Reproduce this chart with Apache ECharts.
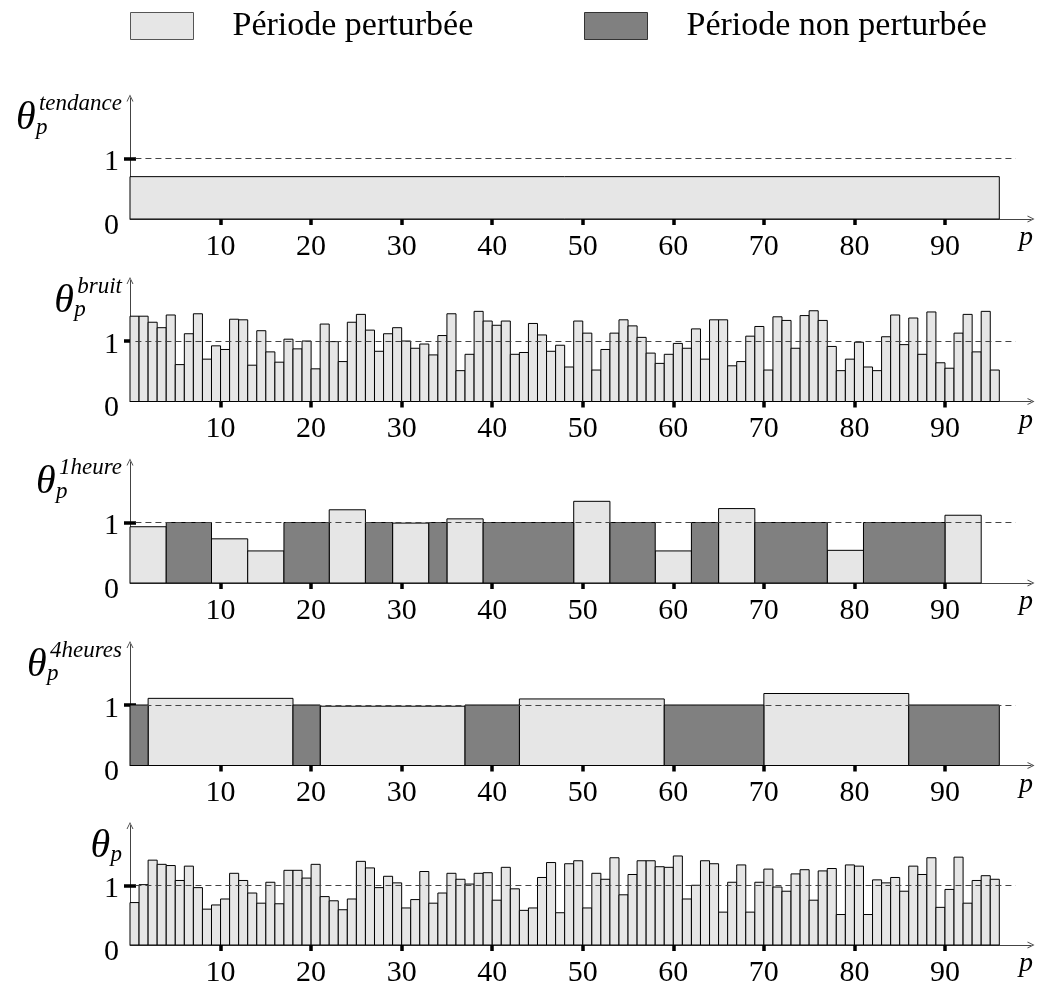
<!DOCTYPE html>
<html><head><meta charset="utf-8">
<script src="https://cdn.jsdelivr.net/npm/echarts@6/dist/echarts.min.js"></script>
<style>html,body{margin:0;padding:0;background:#fff}#c{width:1042px;height:988px}</style>
</head><body><div id="c"></div>
<script>
// ---------- data ----------
const xTicks = [10, 20, 30, 40, 50, 60, 70, 80, 90];
const legendNames = ['Période perturbée', 'Période non perturbée'];
const panelSup = ['tendance', 'bruit', '1heure', '4heures', ''];

// panel 1 : tendance (one segment)
const tendanceStart = [0];
const tendanceEnd = [96];
const tendanceValue = [0.70];
const tendanceType = ['P'];

// panel 2 : bruit (p = 1..96)
const bruit = [
  1.41,1.41,1.31,1.22,1.43,0.61,1.12,1.45,0.70,0.92,
  0.86,1.36,1.35,0.60,1.17,0.82,0.65,1.03,0.87,1.00,
  0.54,1.28,0.99,0.66,1.31,1.44,1.18,0.83,1.12,1.22,
  1.00,0.88,0.95,0.77,1.09,1.45,0.51,0.78,1.49,1.33,
  1.26,1.33,0.78,0.81,1.29,1.10,0.83,0.93,0.57,1.33,
  1.13,0.52,0.86,1.13,1.35,1.25,1.06,0.80,0.63,0.78,
  0.96,0.88,1.20,0.70,1.35,1.35,0.59,0.66,1.08,1.24,
  0.52,1.40,1.34,0.88,1.42,1.50,1.34,0.91,0.51,0.70,
  0.98,0.57,0.51,1.07,1.43,0.94,1.38,0.78,1.48,0.64,
  0.55,1.13,1.44,0.82,1.49,0.52
];

// panel 3 : 1 heure
const heureStart = [0,4,9,13,17,22,26,29,33,35,39,49,53,58,62,65,69,77,81,90];
const heureEnd   = [4,9,13,17,22,26,29,33,35,39,49,53,58,62,65,69,77,81,90,94];
const heureValue = [0.93,1,0.73,0.53,1,1.21,1,0.99,1,1.06,1,1.35,1,0.53,1,1.23,1,0.54,1,1.12];
const heureType  = ['P','N','P','P','N','P','N','P','N','P','N','P','N','P','N','P','N','P','N','P'];

// panel 4 : 4 heures
const quatreStart = [0,2,18,21,37,43,59,70,86];
const quatreEnd   = [2,18,21,37,43,59,70,86,96];
const quatreValue = [1,1.11,1,0.98,1,1.10,1,1.19,1];
const quatreType  = ['N','P','N','P','N','P','N','P','N'];

// panel 5 : theta_p (p = 1..96)
const theta = [
  0.71,1.01,1.42,1.35,1.33,1.08,1.32,0.96,0.60,0.67,
  0.77,1.20,1.08,0.87,0.70,1.05,0.69,1.25,1.25,1.12,
  1.35,0.81,0.74,0.59,0.77,1.40,1.29,0.96,1.15,1.04,
  0.62,0.76,1.23,0.70,0.87,1.20,1.10,1.02,1.20,1.21,
  0.75,1.30,0.94,0.58,0.62,1.13,1.38,0.54,1.36,1.41,
  0.62,1.20,1.10,1.46,0.84,1.18,1.41,1.41,1.31,1.30,
  1.49,0.77,1.00,1.41,1.36,0.55,1.05,1.34,0.55,1.05,
  1.27,0.97,0.90,1.19,1.26,0.75,1.24,1.28,0.51,1.34,
  1.32,0.51,1.09,1.04,1.13,0.90,1.32,1.18,1.46,0.63,
  0.93,1.47,0.70,1.08,1.16,1.10
];

// ---------- build ----------
function segs(st, en, val, typ) { return st.map((s, i) => [s, en[i], val[i], typ[i]]); }
function perPeriod(arr) { return arr.map((v, i) => [i, i + 1, v, 'P']); }
const panels = [
  segs(tendanceStart, tendanceEnd, tendanceValue, tendanceType),
  perPeriod(bruit),
  segs(heureStart, heureEnd, heureValue, heureType),
  segs(quatreStart, quatreEnd, quatreValue, quatreType),
  perPeriod(theta)
];

const FONT = 'Liberation Serif';
const LIGHT = '#e6e6e6', DARK = '#808080';
const baselines = [219, 401.5, 583, 765.5, 946.5];
const plotH = 121, yMax = 2, xMax = 99.5;
const arrow = 'path://M0,10 L5,0 L10,10 L8.6,10 L5,2.6 L1.4,10 Z';

const nameRich = {
  sp:  { width: 23, height: 20, lineHeight: 20, align: 'left' },
  sup: { fontFamily: FONT, fontStyle: 'italic', fontSize: 23, height: 20, lineHeight: 20, verticalAlign: 'middle', align: 'left', color: '#000' },
  th:  { fontFamily: FONT, fontStyle: 'italic', fontSize: 40, width: 20, height: 9, lineHeight: 9, verticalAlign: 'middle', align: 'left', color: '#000' },
  sub: { fontFamily: FONT, fontStyle: 'italic', fontSize: 23, height: 27, lineHeight: 9, verticalAlign: 'top', align: 'left', color: '#000' }
};

const grid = [], xAxis = [], yAxis = [], series = [];
panels.forEach((segments, i) => {
  grid.push({ left: 130, width: 901, top: baselines[i] - plotH, height: plotH, containLabel: false });
  xAxis.push({
    type: 'value', gridIndex: i, position: 'bottom', min: 0, max: xMax, interval: 10,
    axisLine: { show: true, onZero: false, lineStyle: { color: '#444', width: 1 }, symbol: ['none', arrow], symbolSize: [7, 7] },
    axisTick: { show: true, customValues: xTicks, length: 6, inside: false, lineStyle: { color: '#000', width: 3.5 } },
    axisLabel: { show: true, customValues: xTicks, margin: 13, fontFamily: FONT, fontSize: 30, color: '#000' },
    splitLine: { show: false },
    name: 'p', nameLocation: 'end', nameGap: 2,
    nameTextStyle: { fontFamily: FONT, fontStyle: 'italic', fontSize: 28, color: '#000', align: 'right', verticalAlign: 'top', padding: [5, 0, 0, 0] }
  });
  xAxis.push({
    type: 'value', gridIndex: i, position: 'bottom', min: 0, max: xMax, interval: 10,
    axisLine: { show: false }, axisLabel: { show: false }, splitLine: { show: false },
    axisTick: { show: true, customValues: xTicks, length: 6, inside: true, lineStyle: { color: '#000', width: 3.5 } }
  });
  const sup = panelSup[i];
  yAxis.push({
    type: 'value', gridIndex: i, position: 'left', min: 0, max: yMax, interval: 1,
    axisLine: { show: true, onZero: false, lineStyle: { color: '#444', width: 1 }, symbol: ['none', arrow], symbolSize: [7, 7] },
    axisTick: { show: true, customValues: [1], length: 6, inside: false, lineStyle: { color: '#000', width: 3.5 } },
    axisLabel: {
      show: true, customValues: [0, 1], margin: 11, color: '#000',
      formatter: v => v === 0 ? '{lo|0}' : '{hi|1}',
      rich: {
        lo: { fontFamily: FONT, fontSize: 30, color: '#000', padding: [14, 0, 0, 0] },
        hi: { fontFamily: FONT, fontSize: 30, color: '#000', padding: [8, 0, 0, 0] }
      }
    },
    splitLine: { show: false },
    name: '{sp|}{sup|' + (sup || ' ') + '}\n{th|θ}{sub|p}',
    nameLocation: 'end', nameGap: 4,
    nameTextStyle: { align: 'right', verticalAlign: 'top', padding: [0, 8, 0, 0], rich: nameRich }
  });
  yAxis.push({
    type: 'value', gridIndex: i, position: 'left', min: 0, max: yMax, interval: 1,
    axisLine: { show: false }, axisLabel: { show: false }, splitLine: { show: false },
    axisTick: { show: true, customValues: [1], length: 6, inside: true, lineStyle: { color: '#000', width: 3.5 } }
  });

  [['P', LIGHT, legendNames[0]], ['N', DARK, legendNames[1]]].forEach(([t, col, nm]) => {
    const d = segments.filter(s => s[3] === t).map(s => [s[0], s[1], s[2]]);
    if (!d.length) return;
    series.push({
      type: 'custom', name: nm, xAxisIndex: 2 * i, yAxisIndex: 2 * i, z: 2,
      encode: { x: [0, 1], y: 2 },
      itemStyle: { color: col, borderColor: '#000', borderWidth: 1 },
      renderItem: (params, api) => {
        const a = api.coord([api.value(0), 0]);
        const b = api.coord([api.value(1), api.value(2)]);
        return {
          type: 'rect',
          shape: { x: a[0], y: b[1], width: b[0] - a[0], height: a[1] - b[1] },
          style: { fill: col, stroke: '#000', lineWidth: 1 }
        };
      },
      data: d
    });
  });
  series.push({
    type: 'line', name: 'ref' + i, xAxisIndex: 2 * i, yAxisIndex: 2 * i, data: [], z: 5,
    markLine: {
      silent: true, symbol: ['none', 'none'], label: { show: false }, z: 5,
      lineStyle: { type: [6, 4], color: '#444', width: 1 },
      data: [[{ coord: [0.6, 1] }, { coord: [97.8, 1] }]]
    }
  });
});

const legendCommon = {
  top: 9, padding: 0, itemWidth: 63, itemHeight: 27, icon: 'rect', selectedMode: false,
  textStyle: { fontFamily: FONT, fontSize: 34, color: '#000', padding: [0, 0, 0, 34] }
};
const option = {
  animation: false,
  backgroundColor: '#fff',
  legend: [
    Object.assign({}, legendCommon, { left: 130, data: [{ name: legendNames[0], itemStyle: { color: LIGHT, borderColor: '#555', borderWidth: 1 } }] }),
    Object.assign({}, legendCommon, { left: 584, data: [{ name: legendNames[1], itemStyle: { color: DARK, borderColor: '#333', borderWidth: 1 } }] })
  ],
  grid, xAxis, yAxis, series
};
const chart = echarts.init(document.getElementById('c'), null, { renderer: 'canvas' });
chart.setOption(option);
</script></body></html>
